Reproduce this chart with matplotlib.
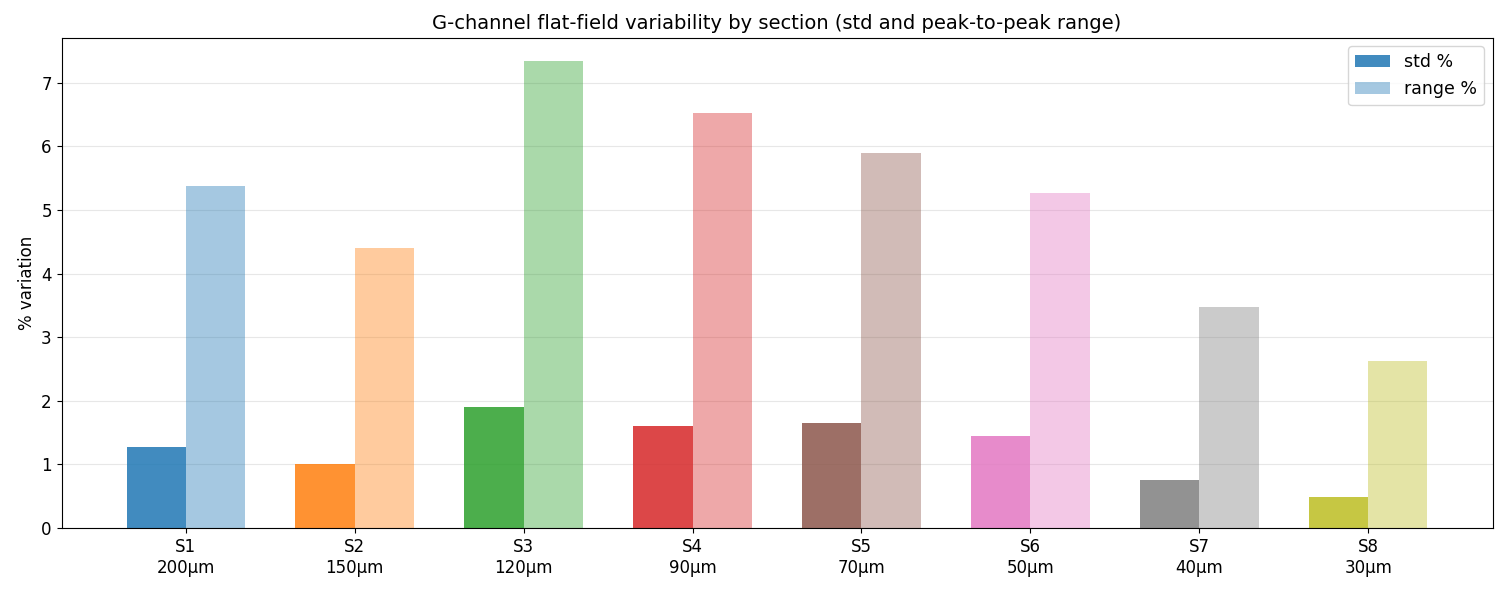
import matplotlib
matplotlib.use("Agg")
import matplotlib.pyplot as plt
import numpy as np

sections = ["S1\n200µm", "S2\n150µm", "S3\n120µm", "S4\n90µm", "S5\n70µm", "S6\n50µm", "S7\n40µm", "S8\n30µm"]
std_pct = [1.28, 1.00, 1.91, 1.61, 1.65, 1.44, 0.75, 0.48]
range_pct = [5.38, 4.41, 7.34, 6.53, 5.90, 5.26, 3.47, 2.62]
color_idx = [0, 1, 2, 3, 5, 6, 7, 8]

fig, ax = plt.subplots(figsize=(15, 6), dpi=100)
x = np.arange(len(sections))
w = 0.35
cols = plt.get_cmap("tab10").colors
for i in range(len(sections)):
    c = cols[color_idx[i]]
    ax.bar(x[i] - w/2, std_pct[i], w, color=c, alpha=0.85, label="std %" if i == 0 else None, zorder=2)
    ax.bar(x[i] + w/2, range_pct[i], w, color=c, alpha=0.4, label="range %" if i == 0 else None, zorder=2)
ax.set_xticks(x)
ax.set_xticklabels(sections, fontsize=12)
ax.tick_params(axis="y", labelsize=12)
ax.set_ylabel("% variation", fontsize=12)
ax.set_title("G-channel flat-field variability by section (std and peak-to-peak range)", fontsize=14)
ax.grid(axis="y", alpha=0.3, zorder=0)
ax.legend(fontsize=12.5, loc="upper right")
fig.subplots_adjust(left=0.041, right=0.995, top=0.937, bottom=0.12)
fig.savefig("out.png")
